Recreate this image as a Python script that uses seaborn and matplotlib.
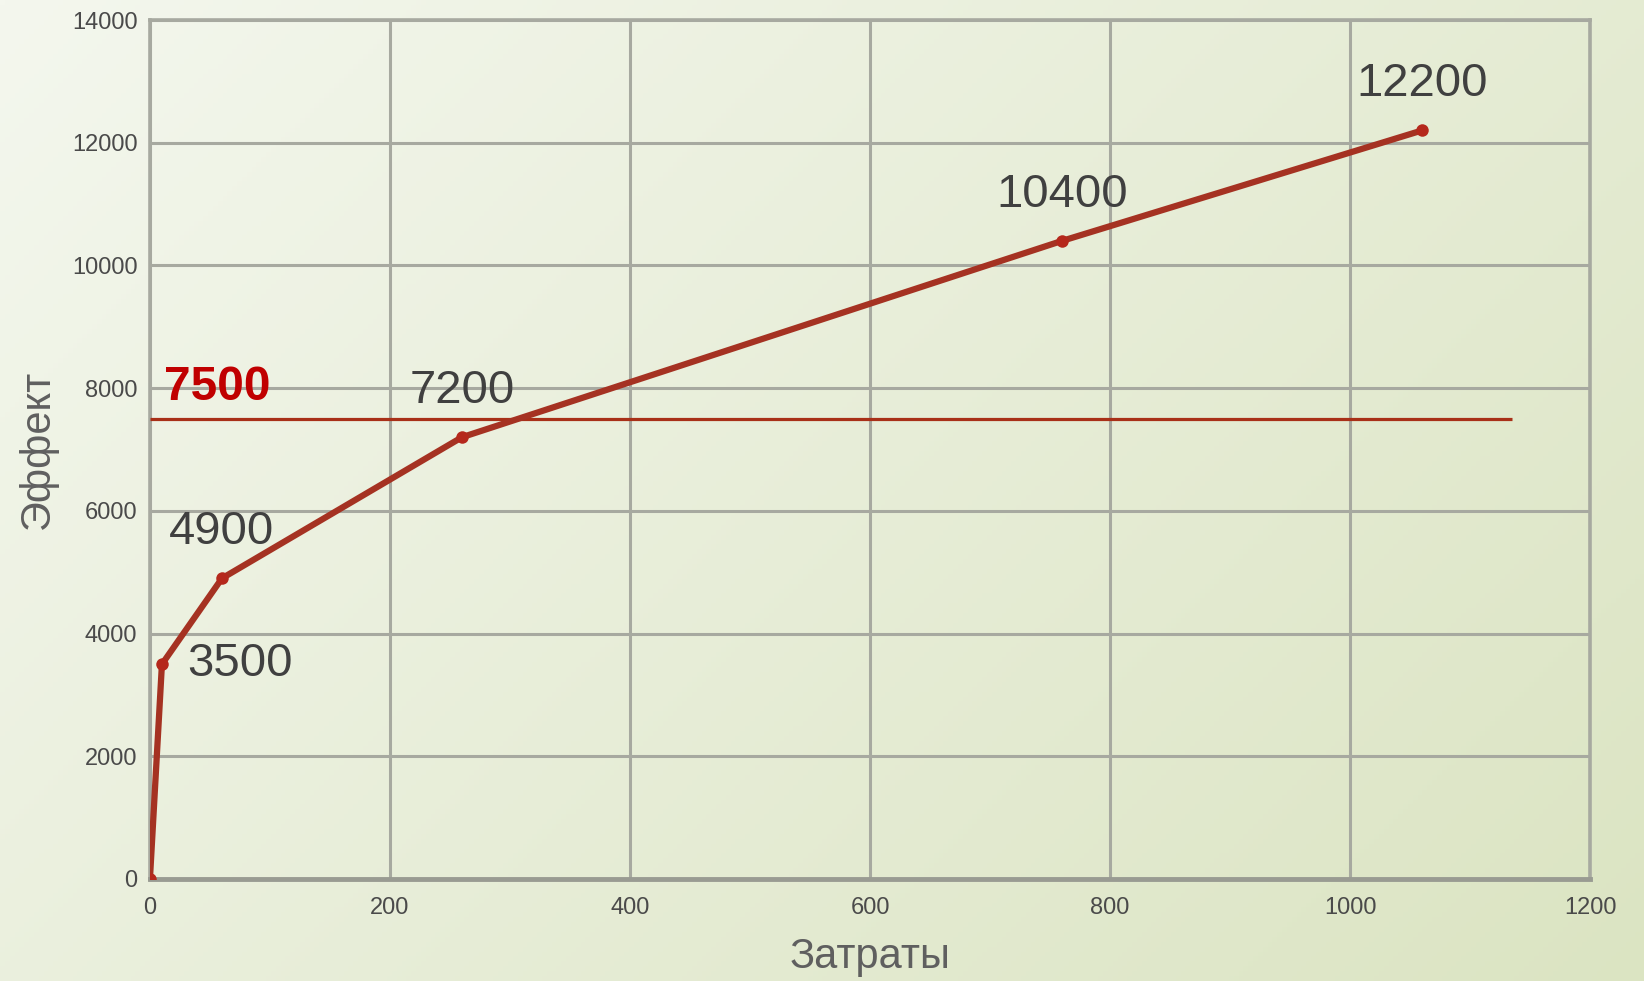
import numpy as np
import pandas as pd
import matplotlib
matplotlib.use("Agg")
import matplotlib.pyplot as plt
from matplotlib import font_manager
import seaborn as sns

# Cost / effect curve
zatraty = [0, 10, 60, 260, 760, 1060]
effekt = [0, 3500, 4900, 7200, 10400, 12200]
point_labels = ["", "3500", "4900", "7200", "10400", "12200"]

threshold = 7500
threshold_x_end = 1135

x_ticks = [0, 200, 400, 600, 800, 1000, 1200]
y_ticks = [0, 2000, 4000, 6000, 8000, 10000, 12000, 14000]

sns.set_theme(style="white")
plt.rcParams["font.family"] = ["Liberation Sans", "DejaVu Sans"]

installed = {f.name for f in font_manager.fontManager.ttflist}
tick_family = "Liberation Sans Narrow" if "Liberation Sans Narrow" in installed else "Liberation Sans"

fig = plt.figure(figsize=(16.44, 9.81), dpi=100)

# soft diagonal background wash
bg = fig.add_axes([0, 0, 1, 1], zorder=-10)
h, w = 200, 340
yy, xx = np.mgrid[0:h, 0:w]
t = (xx / w * 0.75 + yy / h * 0.45) / 1.2
c0 = np.array([0xf4, 0xf7, 0xee]) / 255
c1 = np.array([0xdb, 0xe4, 0xc2]) / 255
img = c0[None, None, :] * (1 - t[..., None]) + c1[None, None, :] * t[..., None]
bg.imshow(img, aspect="auto", extent=[0, 1, 0, 1], origin="upper")
bg.axis("off")

ax = fig.add_axes([0.0912, 0.104, 0.8760, 0.8756])
ax.set_facecolor("none")

df = pd.DataFrame({"Затраты": zatraty, "Эффект": effekt})

grid_color = "#a7a9a0"
ax.set_xlim(0, 1200)
ax.set_ylim(0, 14000)
ax.set_xticks(x_ticks)
ax.set_yticks(y_ticks)
ax.grid(True, color=grid_color, linewidth=2.2, zorder=0)
for side in ["left", "right", "top"]:
    ax.spines[side].set_color(grid_color)
    ax.spines[side].set_linewidth(2.6)
ax.spines["bottom"].set_color("#999b92")
ax.spines["bottom"].set_linewidth(3.5)

ax.hlines(threshold, 0, threshold_x_end, color="#a83018", linewidth=2.3, zorder=3)
ax.annotate(str(threshold), xy=(0, threshold), xytext=(14, 9),
            textcoords="offset pixels", ha="left", va="bottom",
            fontsize=34.5, fontweight="bold", color="#c00000", zorder=5)

sns.lineplot(data=df, x="Затраты", y="Эффект", ax=ax, color="#a53222",
             linewidth=4.5, marker="o", markersize=9, markeredgewidth=0,
             markerfacecolor="#b5281c", zorder=4)

for xv, yv, lab in zip(zatraty, effekt, point_labels):
    if not lab:
        continue
    if lab == "3500":
        ax.annotate(lab, xy=(xv, yv), xytext=(25, 0), textcoords="offset pixels",
                    ha="left", va="center", fontsize=34, color="#404040", zorder=5)
    else:
        ax.annotate(lab, xy=(xv, yv), xytext=(0, 46), textcoords="offset pixels",
                    ha="center", va="center", fontsize=34, color="#404040", zorder=5)

ax.tick_params(axis="both", length=0, labelsize=17, labelcolor="#4a4a4a")
ax.tick_params(axis="x", pad=13)
ax.tick_params(axis="y", pad=9)
for lbl in ax.get_xticklabels() + ax.get_yticklabels():
    lbl.set_family([tick_family, "DejaVu Sans"])

ax.set_xlabel("Затраты", fontsize=30, color="#5f5f5f", labelpad=13)
ax.set_ylabel("Эффект", fontsize=30, color="#5f5f5f", labelpad=10)

fig.savefig("out.png", dpi=100)
